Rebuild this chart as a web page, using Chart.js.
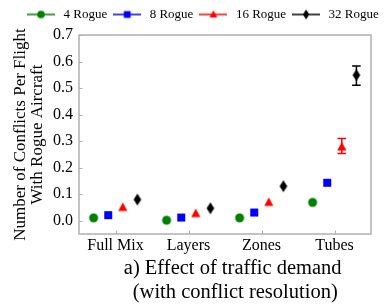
<!DOCTYPE html>
<html>
<head>
<meta charset="utf-8">
<script src="https://cdn.jsdelivr.net/npm/chart.js@4.4.0/dist/chart.umd.min.js"></script>
<style>
  html, body { margin: 0; padding: 0; background: #fff; }
</style>
</head>
<body>
<canvas id="chart" width="385" height="305"></canvas>
<script>
// data
const categories = ['Full Mix', 'Layers', 'Zones', 'Tubes']
const seriesNames = ['4 Rogue', '8 Rogue', '16 Rogue', '32 Rogue']
const rogue4 = [0.011, 0.002, 0.011, 0.069]
const rogue8 = [0.021, 0.012, 0.031, 0.143]
const rogue16 = [0.05, 0.027, 0.069, 0.278]
const rogue32 = [0.08, 0.047, 0.13, 0.549]
// error bars, only the Tubes ones are visible in the figure
const rogue16Low = [null, null, null, 0.253]
const rogue16High = [null, null, null, 0.31]
const rogue32Low = [null, null, null, 0.511]
const rogue32High = [null, null, null, 0.583]
const yTicks = [0, 0.1, 0.2, 0.3, 0.4, 0.5, 0.6, 0.7]

const FONT = "'Liberation Serif', 'DejaVu Serif', serif"
const colours = ['#008000', '#0000ff', '#ff0000', '#000000']
const offsets = [-0.3, -0.1, 0.1, 0.3]
const markers = ['circle', 'square', 'triangle', 'thinDiamond']

function drawMarker(ctx, kind, x, y, colour, scale = 1) {
  ctx.fillStyle = colour
  ctx.beginPath()
  if (kind === 'circle') {
    ctx.arc(x, y, 4.5 * scale, 0, Math.PI * 2)
  } else if (kind === 'square') {
    ctx.rect(x - 4 * scale, y - 4 * scale, 8 * scale, 8 * scale)
  } else if (kind === 'triangle') {
    ctx.moveTo(x, y - 5 * scale)
    ctx.lineTo(x + 4.6 * scale, y + 3.5 * scale)
    ctx.lineTo(x - 4.6 * scale, y + 3.5 * scale)
    ctx.closePath()
  } else {
    ctx.moveTo(x, y - 6 * scale)
    ctx.lineTo(x + 3.8 * scale, y)
    ctx.lineTo(x, y + 6 * scale)
    ctx.lineTo(x - 3.8 * scale, y)
    ctx.closePath()
  }
  ctx.fill()
}

function markerCanvas(kind, colour) {
  const c = document.createElement('canvas')
  c.width = 12
  c.height = 14
  drawMarker(c.getContext('2d'), kind, 6, 7, colour)
  return c
}

function legendIcon(kind, colour) {
  const c = document.createElement('canvas')
  c.width = 28
  c.height = 14
  const ctx = c.getContext('2d')
  ctx.strokeStyle = colour
  ctx.lineWidth = 1.5
  ctx.beginPath()
  ctx.moveTo(0, 7)
  ctx.lineTo(28, 7)
  ctx.stroke()
  drawMarker(ctx, kind, 14, 7, colour, 0.85)
  return c
}

const seriesValues = [rogue4, rogue8, rogue16, rogue32]
const errors = [null, null, [rogue16Low, rogue16High], [rogue32Low, rogue32High]]

const datasets = seriesValues.map((vals, s) => ({
  label: seriesNames[s],
  data: vals.map((v, i) => ({ x: i + offsets[s], y: v })),
  pointStyle: markerCanvas(markers[s], colours[s]),
  backgroundColor: colours[s],
  borderColor: colours[s],
  showLine: false,
}))

const errorBars = {
  id: 'errorBars',
  beforeDatasetsDraw(chart) {
    const { ctx } = chart
    const xs = chart.scales.x
    const ys = chart.scales.y
    ctx.save()
    errors.forEach((e, s) => {
      if (!e) return
      ctx.strokeStyle = colours[s]
      ctx.lineWidth = 1.5
      e[0].forEach((lo, i) => {
        if (lo === null) return
        const px = xs.getPixelForValue(i + offsets[s])
        const p1 = ys.getPixelForValue(lo)
        const p2 = ys.getPixelForValue(e[1][i])
        ctx.beginPath()
        ctx.moveTo(px, p1); ctx.lineTo(px, p2)
        ctx.moveTo(px - 4.3, p1); ctx.lineTo(px + 4.3, p1)
        ctx.moveTo(px - 4.3, p2); ctx.lineTo(px + 4.3, p2)
        ctx.stroke()
      })
    })
    ctx.restore()
  },
}

// grey box around the plot with small inward ticks
const frame = {
  id: 'frame',
  afterDraw(chart) {
    const { ctx, chartArea: a } = chart
    const xs = chart.scales.x
    const ys = chart.scales.y
    ctx.save()
    ctx.strokeStyle = '#b0b0b0'
    ctx.lineWidth = 1.5
    ctx.strokeRect(a.left, a.top, a.right - a.left, a.bottom - a.top)
    ctx.lineWidth = 1
    ctx.beginPath()
    categories.forEach((c, i) => {
      const px = Math.round(xs.getPixelForValue(i)) + 0.5
      ctx.moveTo(px, a.bottom); ctx.lineTo(px, a.bottom - 3.5)
    })
    yTicks.forEach((v) => {
      const py = Math.round(ys.getPixelForValue(v)) + 0.5
      ctx.moveTo(a.left, py); ctx.lineTo(a.left + 3.5, py)
    })
    ctx.stroke()
    ctx.restore()
  },
}

// the legend in the figure sits right of centre and a bit above the plot
const legendShift = {
  id: 'legendShift',
  afterLayout(chart) {
    const lg = chart.legend
    lg.left = 21
    lg.right = 420
    lg.top -= 4
    lg.bottom -= 4
  },
}

new Chart(document.getElementById('chart'), {
  type: 'scatter',
  data: { datasets },
  options: {
    responsive: false,
    animation: false,
    layout: { padding: { top: 8, right: 14, left: 0, bottom: 0 } },
    elements: { point: { radius: 5, hoverRadius: 5 } },
    plugins: {
      tooltip: { enabled: false },
      legend: {
        position: 'top',
        align: 'start',
        labels: {
          usePointStyle: true,
          pointStyleWidth: 32,
          padding: 4,
          color: '#000',
          font: { family: FONT, size: 13 },
          generateLabels: () => seriesNames.map((name, i) => ({
            text: name,
            pointStyle: legendIcon(markers[i], colours[i]),
            fillStyle: colours[i],
            strokeStyle: colours[i],
            lineWidth: 0,
            hidden: false,
            datasetIndex: i,
            fontColor: '#000',
          })),
        },
      },
    },
    scales: {
      x: {
        type: 'linear',
        min: -0.5,
        max: 3.5,
        afterBuildTicks: (scale) => { scale.ticks = categories.map((c, i) => ({ value: i })) },
        afterFit: (scale) => { scale.height = 71 },
        grid: { display: false, drawTicks: false },
        border: { display: false },
        ticks: {
          padding: 2,
          color: '#000',
          font: { family: FONT, size: 16 },
          callback: (v) => categories[v],
        },
        title: {
          display: true,
          text: ['   a) Effect of traffic demand', '    (with conflict resolution)'],
          color: '#000',
          font: { family: FONT, size: 20.5, lineHeight: 1.17 },
          padding: { top: 3, bottom: 0 },
        },
      },
      y: {
        min: -0.05,
        max: 0.7,
        afterBuildTicks: (scale) => { scale.ticks = yTicks.map((v) => ({ value: v })) },
        afterFit: (scale) => { scale.width = 79 },
        grid: { display: false, drawTicks: false },
        border: { display: false },
        ticks: {
          padding: 6,
          color: '#000',
          font: { family: FONT, size: 16 },
          callback: (v) => v.toFixed(1),
        },
        title: {
          display: true,
          text: ['Number of Conflicts Per Flight', 'With Rogue Aircraft'],
          color: '#000',
          font: { family: FONT, size: 17, lineHeight: 1.0 },
          padding: { top: 12.5, bottom: 0 },
        },
      },
    },
  },
  plugins: [errorBars, frame, legendShift],
})
</script>
</body>
</html>
